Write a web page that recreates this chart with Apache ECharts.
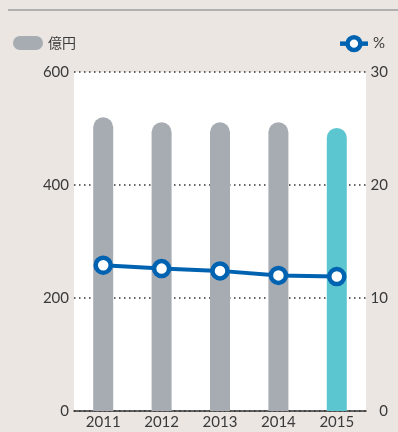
<!DOCTYPE html>
<html>
<head>
<meta charset="UTF-8">
<title>chart</title>
<script src="https://cdn.jsdelivr.net/npm/echarts@6/dist/echarts.min.js"></script>
<style>
  html, body { margin: 0; padding: 0; background: #ebe6e2; }
</style>
</head>
<body>
<div id="main" style="width: 398px;height: 432px;"></div>
<script type="text/javascript">
var years = ['2011', '2012', '2013', '2014', '2015'];
var amount = [520, 511, 511, 511, 501];      // 億円
var ratio = [12.9, 12.6, 12.4, 12.0, 11.9];  // %
var leftTicks = [0, 600, 200];
var rightTicks = [0, 30, 10];

var barGray = '#a7abb2';
var barLast = '#5cc6d0';
var lineBlue = '#0063b1';
var txt = '#3a3a3a';
var font = 'Lato';

var myChart = echarts.init(document.getElementById('main'));

var barData = amount.map(function (v, i) {
    return i === amount.length - 1 ? { value: v, itemStyle: { color: barLast } } : v;
});

option = {
    backgroundColor: '#ebe6e2',
    animation: false,
    textStyle: { fontFamily: font },
    graphic: [{
        type: 'line',
        shape: { x1: 8, y1: 10, x2: 398, y2: 10 },
        style: { stroke: '#7a7a7a', lineWidth: 1.2 }
    }],
    legend: [{
        left: 8,
        top: 31,
        itemWidth: 30,
        itemHeight: 14,
        itemGap: 4,
        textStyle: { color: txt, fontSize: 14, fontFamily: 'Noto Sans CJK JP' },
        data: [{ name: '億円', icon: 'path://M7,0 H23 A7,7 0 0 1 23,14 H7 A7,7 0 0 1 7,0 Z' }]
    }, {
        right: 8,
        top: 30,
        itemWidth: 28,
        itemHeight: 16,
        itemGap: 5,
        textStyle: { color: txt, fontSize: 15 },
        lineStyle: { width: 4.5 },
        itemStyle: { borderWidth: 4.5 },
        data: ['%']
    }],
    grid: {
        left: 74,
        right: 32,
        top: 72,
        bottom: 21,
        show: true,
        backgroundColor: '#ffffff',
        borderWidth: 0
    },
    xAxis: {
        type: 'category',
        data: years,
        axisTick: { show: false },
        axisLine: { lineStyle: { color: '#333', width: 1.5 } },
        axisLabel: { color: txt, fontSize: 15, margin: 4 }
    },
    yAxis: [{
        type: 'value',
        min: leftTicks[0],
        max: leftTicks[1],
        interval: leftTicks[2],
        axisLine: { show: false },
        axisTick: { show: false },
        axisLabel: { color: txt, fontSize: 15, margin: 5 },
        splitLine: { lineStyle: { color: '#333', type: [1.5, 3.5], width: 1.5 } }
    }, {
        type: 'value',
        min: rightTicks[0],
        max: rightTicks[1],
        interval: rightTicks[2],
        axisLine: { show: false },
        axisTick: { show: false },
        axisLabel: { color: txt, fontSize: 15, align: 'right', margin: 22 },
        splitLine: { show: false }
    }],
    series: [{
        name: '億円',
        type: 'bar',
        barWidth: 20,
        itemStyle: { color: barGray, borderRadius: [10, 10, 0, 0] },
        data: barData
    }, {
        name: '%',
        type: 'line',
        yAxisIndex: 1,
        symbol: 'circle',
        symbolSize: 15,
        lineStyle: { color: lineBlue, width: 4 },
        itemStyle: { color: '#ffffff', borderColor: lineBlue, borderWidth: 4.5 },
        data: ratio
    }]
};
myChart.setOption(option);
</script>
</body>
</html>
